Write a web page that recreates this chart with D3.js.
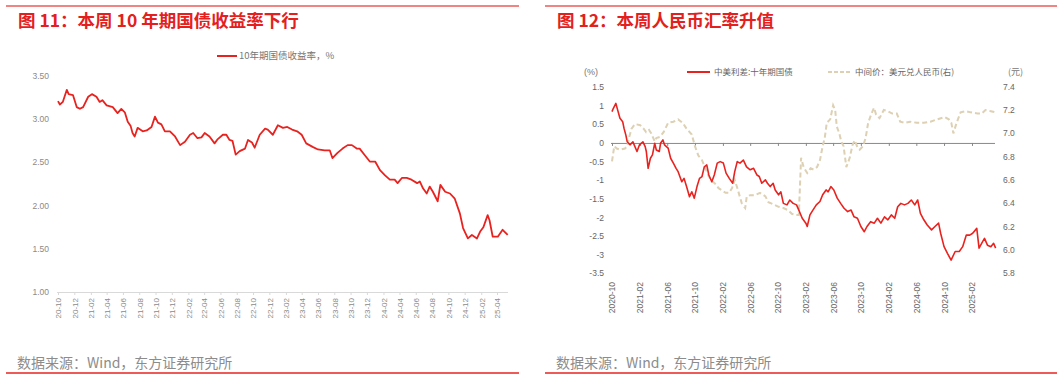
<!DOCTYPE html>
<html>
<head>
<meta charset="utf-8">
<script src="https://cdn.jsdelivr.net/npm/d3@7"></script>
<style>
  body { margin: 0; background: #fff; }
  text { font-family: "Liberation Sans", Arial, "Noto Sans CJK SC", sans-serif; }
  .cjk { font-family: "Noto Sans CJK SC", "Liberation Sans", sans-serif; }
</style>
</head>
<body>
<svg id="svg" width="1061" height="379"></svg>
<script>

/**
 * DATA
 */

// left chart: 10y government bond yield, %
var yieldDates = [
  "2020-10-01","2020-10-08","2020-10-19","2020-11-03","2020-11-10","2020-11-26","2020-12-10","2020-12-22",
  "2021-01-03","2021-01-22","2021-02-05","2021-02-22","2021-03-06","2021-03-16","2021-04-01","2021-04-24",
  "2021-05-12","2021-05-26","2021-06-08","2021-06-19","2021-06-30","2021-07-07","2021-07-15","2021-07-26",
  "2021-08-14","2021-08-29","2021-09-16","2021-09-29","2021-10-10","2021-10-23","2021-11-05","2021-11-24",
  "2021-12-13","2022-01-01","2022-01-19","2022-02-07","2022-02-19","2022-03-07","2022-03-22","2022-04-03",
  "2022-04-21","2022-05-10","2022-05-22","2022-06-10","2022-06-23","2022-07-05","2022-07-16","2022-07-28",
  "2022-08-12","2022-09-01","2022-09-12","2022-09-27","2022-10-07","2022-10-26","2022-11-15","2022-11-25",
  "2022-12-14","2023-01-02","2023-01-21","2023-02-06","2023-02-24","2023-03-15","2023-04-01","2023-04-18",
  "2023-05-12","2023-06-01","2023-06-26","2023-07-15","2023-07-25","2023-08-13","2023-09-01","2023-09-20",
  "2023-10-06","2023-10-24","2023-11-04","2023-11-24","2023-12-12","2024-01-01","2024-01-19","2024-02-07",
  "2024-02-25","2024-03-14","2024-03-25","2024-04-10","2024-04-28","2024-05-16","2024-06-06","2024-06-16",
  "2024-06-28","2024-07-12","2024-07-23","2024-08-04","2024-08-22","2024-09-01","2024-09-19","2024-10-07",
  "2024-10-25","2024-11-13","2024-11-25","2024-12-13","2024-12-28","2025-01-16","2025-01-28","2025-02-09",
  "2025-02-25","2025-03-04","2025-03-16","2025-04-04","2025-04-22","2025-05-11"
];
var yieldValues = [
  3.21,3.17,3.20,3.34,3.29,3.28,3.14,3.12,
  3.14,3.26,3.29,3.26,3.20,3.22,3.16,3.14,
  3.07,3.12,3.08,2.97,2.92,2.84,2.80,2.90,
  2.86,2.87,2.91,3.03,2.96,2.94,2.86,2.86,
  2.80,2.70,2.74,2.82,2.84,2.78,2.79,2.84,
  2.80,2.72,2.77,2.82,2.82,2.76,2.75,2.59,
  2.63,2.66,2.76,2.73,2.67,2.82,2.89,2.88,
  2.82,2.93,2.90,2.91,2.88,2.86,2.82,2.72,
  2.68,2.65,2.64,2.64,2.55,2.61,2.66,2.70,
  2.70,2.66,2.66,2.58,2.51,2.51,2.41,2.35,
  2.30,2.30,2.26,2.32,2.32,2.30,2.26,2.28,
  2.20,2.14,2.22,2.16,2.05,2.24,2.16,2.14,
  2.08,1.91,1.74,1.62,1.66,1.62,1.70,1.75,
  1.89,1.83,1.64,1.64,1.72,1.66
];
var yieldTicks = [1.00, 1.50, 2.00, 2.50, 3.00, 3.50];

// right chart: China-US 10y spread (%) and USD/CNY central parity (right axis)
var spreadDates = [
  "2020-10-01","2020-10-07","2020-10-18","2020-10-26","2020-11-05","2020-11-17","2020-11-23","2020-12-01",
  "2020-12-07","2020-12-19","2021-01-01","2021-01-19","2021-01-30","2021-02-14","2021-02-24","2021-03-01",
  "2021-03-09","2021-03-19","2021-03-28","2021-04-07","2021-04-14","2021-04-27","2021-05-03","2021-05-13",
  "2021-05-20","2021-06-05","2021-06-16","2021-06-28","2021-07-10","2021-07-19","2021-08-04","2021-08-14",
  "2021-08-25","2021-09-07","2021-09-17","2021-09-28","2021-10-10","2021-10-21","2021-11-01","2021-11-11",
  "2021-11-22","2021-12-01","2021-12-14","2021-12-25","2022-01-07","2022-01-20","2022-02-03","2022-02-15",
  "2022-03-01","2022-03-16","2022-03-25","2022-04-05","2022-04-17","2022-05-02","2022-05-16","2022-06-01",
  "2022-06-16","2022-07-01","2022-07-11","2022-07-22","2022-08-07","2022-08-16","2022-08-28","2022-09-10",
  "2022-09-19","2022-10-04","2022-10-14","2022-10-25","2022-11-10","2022-11-22","2022-12-07","2022-12-22",
  "2023-01-01","2023-01-16","2023-02-01","2023-02-07","2023-02-19","2023-03-04","2023-03-19","2023-04-04",
  "2023-04-16","2023-05-01","2023-05-10","2023-05-22","2023-06-04","2023-06-19","2023-07-04","2023-07-19",
  "2023-08-04","2023-08-19","2023-09-01","2023-09-16","2023-10-01","2023-10-16","2023-10-28","2023-11-13",
  "2023-11-29","2023-12-13","2023-12-28","2024-01-13","2024-01-28","2024-02-12","2024-02-27","2024-03-11",
  "2024-03-25","2024-04-10","2024-04-25","2024-05-10","2024-05-25","2024-06-07","2024-06-19","2024-07-04",
  "2024-07-19","2024-08-07","2024-08-22","2024-09-07","2024-09-16","2024-10-01","2024-10-16","2024-11-01",
  "2024-11-19","2024-12-07","2024-12-22","2025-01-07","2025-01-22","2025-02-04","2025-02-22","2025-03-04",
  "2025-03-19","2025-03-28","2025-04-10","2025-04-25","2025-05-07","2025-05-16"
];
var spreadValues = [
  0.84,0.93,1.06,0.88,0.66,0.57,0.39,0.21,
  0.03,-0.05,0.03,-0.23,-0.05,0.03,-0.10,-0.23,
  -0.68,-0.41,-0.32,-0.01,-0.19,-0.23,0.00,0.08,
  -0.05,-0.14,-0.41,-0.54,-0.68,-0.77,-1.04,-0.95,
  -1.17,-1.44,-1.31,-1.48,-1.17,-0.95,-0.90,-0.64,
  -0.59,-0.86,-1.04,-0.86,-0.54,-0.50,-0.54,-0.81,
  -0.95,-1.08,-0.77,-0.50,-0.54,-0.46,-0.64,-0.72,
  -0.68,-0.86,-0.90,-1.08,-0.99,-1.08,-1.17,-1.08,
  -1.26,-1.39,-1.31,-1.62,-1.66,-1.53,-1.62,-1.66,
  -1.80,-2.02,-2.15,-2.24,-1.93,-1.80,-1.66,-1.57,
  -1.39,-1.26,-1.31,-1.17,-1.26,-1.48,-1.62,-1.75,
  -1.84,-1.80,-1.98,-2.02,-2.24,-2.38,-2.24,-2.11,
  -2.15,-2.02,-2.15,-1.98,-2.06,-1.93,-2.02,-1.71,
  -1.62,-1.66,-1.62,-1.53,-1.66,-1.53,-1.89,-2.06,
  -2.20,-2.33,-2.24,-2.15,-2.42,-2.78,-2.96,-3.14,
  -2.91,-2.91,-2.78,-2.47,-2.47,-2.42,-2.29,-2.82,
  -2.65,-2.56,-2.74,-2.78,-2.69,-2.82
];
var fxDates = [
  "2020-10-01","2020-10-11","2020-10-22","2020-11-05","2020-11-27","2020-12-07","2020-12-16","2020-12-26",
  "2021-01-10","2021-02-02","2021-02-17","2021-02-28","2021-03-13","2021-03-23","2021-04-07","2021-04-14",
  "2021-04-30","2021-05-16","2021-06-05","2021-06-28","2021-07-19","2021-08-08","2021-08-25","2021-09-17",
  "2021-10-01","2021-10-16","2021-11-01","2021-11-16","2021-12-01","2021-12-14","2021-12-28","2022-01-13",
  "2022-01-28","2022-02-13","2022-02-28","2022-03-13","2022-03-25","2022-04-04","2022-04-25","2022-05-10",
  "2022-05-17","2022-06-01","2022-06-22","2022-07-14","2022-08-07","2022-08-20","2022-09-13","2022-10-04",
  "2022-10-25","2022-11-16","2022-12-01","2022-12-16","2023-01-01","2023-01-11","2023-01-22","2023-02-07",
  "2023-02-22","2023-03-07","2023-03-22","2023-04-04","2023-04-16","2023-04-25","2023-05-04","2023-05-19",
  "2023-06-01","2023-06-10","2023-06-17","2023-06-28","2023-07-07","2023-07-17","2023-07-29","2023-08-13",
  "2023-08-25","2023-09-04","2023-09-14","2023-09-26","2023-10-10","2023-10-22","2023-11-02","2023-11-17",
  "2023-11-28","2023-12-07","2023-12-22","2024-01-10","2024-01-28","2024-02-16","2024-03-07","2024-03-22",
  "2024-04-13","2024-05-05","2024-06-04","2024-07-04","2024-08-02","2024-09-01","2024-10-04","2024-10-22",
  "2024-11-02","2024-11-11","2024-11-22","2024-12-01","2024-12-13","2025-01-04","2025-01-26","2025-02-25",
  "2025-03-16","2025-04-01","2025-04-25","2025-05-16"
];
var fxValues = [
  6.76,6.89,6.87,6.86,6.87,6.89,6.97,7.04,
  7.08,7.07,7.04,7.01,7.03,7.00,6.93,6.96,
  6.97,7.01,7.09,7.10,7.12,7.09,7.04,6.99,
  6.89,6.81,6.77,6.70,6.63,6.59,6.57,6.53,
  6.51,6.49,6.49,6.53,6.60,6.54,6.40,6.36,
  6.46,6.47,6.47,6.49,6.46,6.41,6.39,6.37,
  6.36,6.34,6.31,6.30,6.30,6.79,6.71,6.66,
  6.70,6.69,6.71,6.77,6.89,6.96,7.09,7.12,
  7.24,7.20,7.06,7.00,6.93,6.89,6.71,6.79,
  6.90,6.94,6.89,6.86,6.89,6.96,7.09,7.17,
  7.22,7.16,7.13,7.20,7.19,7.17,7.17,7.10,
  7.09,7.10,7.09,7.09,7.10,7.12,7.14,7.12,
  7.09,7.00,7.07,7.12,7.18,7.19,7.18,7.17,
  7.17,7.20,7.19,7.18
];
var spreadTicks = [1.5, 1, 0.5, 0, -0.5, -1, -1.5, -2, -2.5, -3, -3.5];
var fxTicks = [5.8, 6.0, 6.2, 6.4, 6.6, 6.8, 7.0, 7.2, 7.4];


/**
 * SETUP
 */
var svg = d3.select("#svg");
var parse = d3.timeParse("%Y-%m-%d");
var RED = "#e8231f";
var BEIGE = "#ddd0b3";

var yieldData = yieldDates.map(function(d, i) { return { date: parse(d), value: yieldValues[i] }; });
var spreadData = spreadDates.map(function(d, i) { return { date: parse(d), value: spreadValues[i] }; });
var fxData = fxDates.map(function(d, i) { return { date: parse(d), value: fxValues[i] }; });

// panel frame: red rules, title, source
function drawFrame(x0, x1, title, titleX) {
    svg.append("line").attr("x1", x0).attr("x2", x1).attr("y1", 6).attr("y2", 6)
        .attr("stroke", "#ec5b58").attr("stroke-width", 1.5);
    svg.append("text").attr("class", "cjk").attr("x", titleX).attr("y", 27)
        .attr("font-size", 17.5).attr("font-weight", "bold").attr("fill", "#e3201d")
        .text(title);
    svg.append("text").attr("class", "cjk").attr("x", titleX - 1).attr("y", 368)
        .attr("font-size", 14).attr("fill", "#8c8c8c")
        .text("数据来源：Wind，东方证券研究所");
    svg.append("line").attr("x1", x0).attr("x2", x1).attr("y1", 373).attr("y2", 373)
        .attr("stroke", "#ec5b58").attr("stroke-width", 2);
}

drawFrame(6, 519, "图 11：本周 10 年期国债收益率下行", 18);
drawFrame(545, 1057, "图 12：本周人民币汇率升值", 557);


/* LEFT CHART */
var xL = d3.scaleTime().domain([parse("2020-10-01"), parse("2025-04-01")]).range([58, 497]);
var yL = d3.scaleLinear().domain([1, 3.5]).range([292, 76]);

var gL = svg.append("g");

gL.selectAll(".ytick").data(yieldTicks).enter().append("text")
    .attr("x", 49).attr("y", function(d) { return yL(d); })
    .attr("dy", "0.35em").attr("text-anchor", "end")
    .attr("font-size", 8.5).attr("fill", "#8a8a8a")
    .text(function(d) { return d.toFixed(2); });

var xAxisL = d3.axisBottom(xL)
    .tickValues(d3.timeMonth.range(parse("2020-10-01"), parse("2025-04-02"), 2))
    .tickFormat(d3.timeFormat("%y-%m"))
    .tickSize(3).tickSizeOuter(0);

var axL = gL.append("g").attr("transform", "translate(0,292)").call(xAxisL);
axL.select(".domain").attr("stroke", "#d9d9d9").attr("d", "M57,0.5H508");
axL.selectAll(".tick line").attr("stroke", "#d9d9d9");
axL.selectAll(".tick text")
    .attr("font-size", 8).attr("fill", "#8a8a8a").attr("font-family", "Liberation Sans, Arial")
    .attr("transform", "rotate(-90)").attr("text-anchor", "end")
    .attr("x", -6).attr("y", 0).attr("dy", "0.35em");

var lineL = d3.line().x(function(d) { return xL(d.date); }).y(function(d) { return yL(d.value); });
gL.append("path").datum(yieldData).attr("d", lineL)
    .attr("fill", "none").attr("stroke", RED).attr("stroke-width", 1.8).attr("stroke-linejoin", "round");

// legend
gL.append("line").attr("x1", 217).attr("x2", 237).attr("y1", 56).attr("y2", 56)
    .attr("stroke", RED).attr("stroke-width", 2);
gL.append("text").attr("class", "cjk").attr("x", 239).attr("y", 56).attr("dy", "0.35em")
    .attr("font-size", 9.5).attr("fill", "#777").text("10年期国债收益率，%");


/* RIGHT CHART */
var xR = d3.scaleTime().domain([parse("2020-10-01"), parse("2025-02-01")]).range([612, 972]);
var yR = d3.scaleLinear().domain([-3.5, 1.5]).range([273.5, 87]);
var yFx = d3.scaleLinear().domain([5.8, 7.4]).range([273.3, 86.7]);

var gR = svg.append("g");

gR.selectAll(".ytickL").data(spreadTicks).enter().append("text")
    .attr("x", 604).attr("y", function(d) { return yR(d); })
    .attr("dy", "0.35em").attr("text-anchor", "end")
    .attr("font-size", 8.5).attr("fill", "#666")
    .text(function(d) { return String(d); });

gR.selectAll(".ytickR").data(fxTicks).enter().append("text")
    .attr("x", 1003).attr("y", function(d) { return yFx(d); })
    .attr("dy", "0.35em").attr("text-anchor", "start")
    .attr("font-size", 8.5).attr("fill", "#666")
    .text(function(d) { return d.toFixed(1); });

var xAxisR = d3.axisBottom(xR)
    .tickValues(d3.timeMonth.range(parse("2020-10-01"), parse("2025-02-02"), 4))
    .tickFormat(d3.timeFormat("%Y-%m"))
    .tickSize(3).tickSizeOuter(0);

var axR = gR.append("g").attr("transform", "translate(0," + yR(0) + ")").call(xAxisR);
axR.select(".domain").attr("stroke", "#888").attr("d", "M611,0.5H995");
axR.selectAll(".tick line").attr("stroke", "#888");
// labels sit at the bottom of the plot, not on the zero line
axR.selectAll(".tick text")
    .attr("font-size", 8.5).attr("fill", "#666").attr("font-family", "Liberation Sans, Arial")
    .attr("transform", "rotate(-90)").attr("text-anchor", "end")
    .attr("x", -(282 - yR(0))).attr("y", 0).attr("dy", "0.35em");

var lineFx = d3.line().x(function(d) { return xR(d.date); }).y(function(d) { return yFx(d.value); });
gR.append("path").datum(fxData).attr("d", lineFx)
    .attr("fill", "none").attr("stroke", BEIGE).attr("stroke-width", 2)
    .attr("stroke-dasharray", "5,3");

var lineSp = d3.line().x(function(d) { return xR(d.date); }).y(function(d) { return yR(d.value); });
gR.append("path").datum(spreadData).attr("d", lineSp)
    .attr("fill", "none").attr("stroke", RED).attr("stroke-width", 1.6).attr("stroke-linejoin", "round");

// legend and unit labels
gR.append("text").attr("x", 584).attr("y", 72).attr("dy", "0.35em")
    .attr("font-size", 9).attr("fill", "#777").text("(%)");
gR.append("line").attr("x1", 687).attr("x2", 710).attr("y1", 72).attr("y2", 72)
    .attr("stroke", RED).attr("stroke-width", 2);
gR.append("text").attr("class", "cjk").attr("x", 714).attr("y", 72).attr("dy", "0.35em")
    .attr("font-size", 8.5).attr("fill", "#666").text("中美利差:十年期国债");
gR.append("line").attr("x1", 828).attr("x2", 851).attr("y1", 72).attr("y2", 72)
    .attr("stroke", BEIGE).attr("stroke-width", 2).attr("stroke-dasharray", "4,2");
gR.append("text").attr("class", "cjk").attr("x", 855).attr("y", 72).attr("dy", "0.35em")
    .attr("font-size", 8.5).attr("fill", "#666").text("中间价：美元兑人民币(右)");
gR.append("text").attr("class", "cjk").attr("x", 1008).attr("y", 72).attr("dy", "0.35em")
    .attr("font-size", 9).attr("fill", "#777").text("(元)");

</script>
</body>
</html>
